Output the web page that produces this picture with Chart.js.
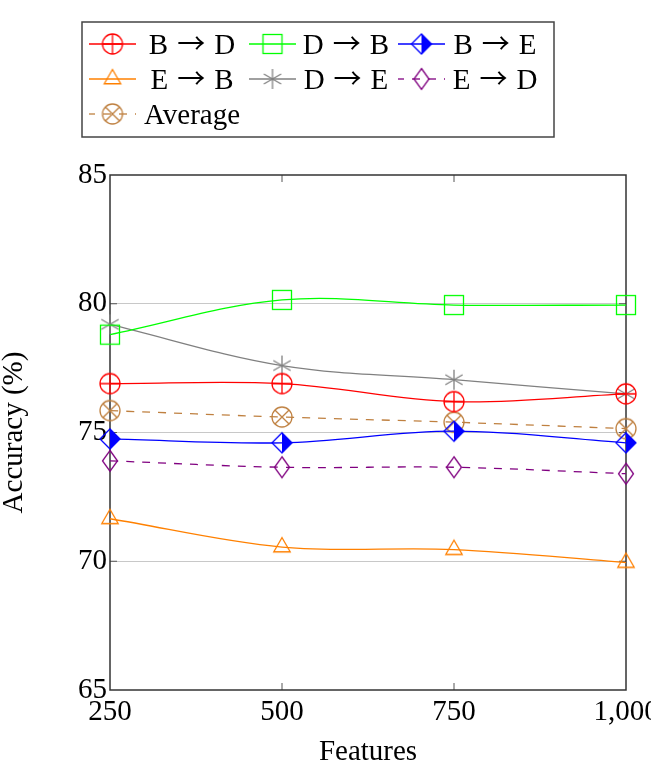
<!DOCTYPE html>
<html>
<head>
<meta charset="utf-8">
<script src="https://cdn.jsdelivr.net/npm/chart.js@4.4.0/dist/chart.umd.min.js"></script>
<style>
  html, body { margin: 0; padding: 0; background: #fff; overflow: hidden; }
  #wrap { width: 651px; height: 768px; }
</style>
</head>
<body>
<div id="wrap"><canvas id="accuracy-chart" width="651" height="768"></canvas></div>
<script>
(function () {
  "use strict";

  // x categories (number of features) and y tick labels
  var features = [250, 500, 750, 1000];
  var yTicks = [65, 70, 75, 80, 85];

  // accuracy (%) per domain pair
  var seriesNames = ["B \u2192 D", "D \u2192 B", "B \u2192 E", "E \u2192 B", "D \u2192 E", "E \u2192 D", "Average"];
  var bToD = [76.9, 76.9, 76.2, 76.5];
  var dToB = [78.8, 80.15, 79.95, 79.95];
  var bToE = [74.75, 74.6, 75.05, 74.6];
  var eToB = [71.65, 70.55, 70.45, 69.95];
  var dToE = [79.2, 77.6, 77.05, 76.5];
  var eToD = [73.9, 73.65, 73.65, 73.4];
  var average = [75.85, 75.6, 75.4, 75.15];

  var FONT = '"Liberation Serif", "Times New Roman", serif';
  var FONT_SIZE = 29;

  /* little canvases used as point markers (pgfplots look) */
  function makeMarker(kind, color) {
    var c = document.createElement("canvas");
    c.width = 28; c.height = 28;
    var g = c.getContext("2d");
    g.strokeStyle = color;
    g.fillStyle = color;
    g.lineWidth = 1.3;
    g.translate(14, 14);
    g.beginPath();
    if (kind === "oplus" || kind === "otimes") {
      g.arc(0, 0, 10, 0, Math.PI * 2);
      g.stroke();
      g.beginPath();
      if (kind === "oplus") {
        g.moveTo(-10, 0); g.lineTo(10, 0);
        g.moveTo(0, -10); g.lineTo(0, 10);
      } else {
        var d = 7.07;
        g.moveTo(-d, -d); g.lineTo(d, d);
        g.moveTo(-d, d); g.lineTo(d, -d);
      }
      g.stroke();
    } else if (kind === "square") {
      g.strokeRect(-9.5, -9.5, 19, 19);
    } else if (kind === "halfdiamond") {
      g.moveTo(0, -10); g.lineTo(10, 0); g.lineTo(0, 10); g.closePath();
      g.fill();
      g.beginPath();
      g.moveTo(0, -10); g.lineTo(10, 0); g.lineTo(0, 10); g.lineTo(-10, 0); g.closePath();
      g.stroke();
    } else if (kind === "triangle") {
      var r = 9.5;
      g.moveTo(0, -r);
      g.lineTo(0.866 * r, r / 2);
      g.lineTo(-0.866 * r, r / 2);
      g.closePath();
      g.stroke();
    } else if (kind === "asterisk") {
      for (var i = 0; i < 3; i++) {
        var a = Math.PI / 2 + i * Math.PI / 3;
        g.moveTo(Math.cos(a) * 10, Math.sin(a) * 10);
        g.lineTo(-Math.cos(a) * 10, -Math.sin(a) * 10);
      }
      g.stroke();
    } else if (kind === "diamond") {
      g.moveTo(0, -10.5); g.lineTo(7.5, 0); g.lineTo(0, 10.5); g.lineTo(-7.5, 0); g.closePath();
      g.stroke();
    }
    return c;
  }

  function pts(values) {
    return values.map(function (v, i) { return { x: features[i], y: v }; });
  }

  function series(label, values, color, marker, dashed) {
    return {
      label: label,
      data: pts(values),
      borderColor: color,
      backgroundColor: color,
      borderWidth: 1.3,
      borderDash: dashed ? [8, 8] : [],
      tension: 0.35,
      fill: false,
      clip: false,
      pointStyle: makeMarker(marker, color),
      pointRadius: 10,
      pointHoverRadius: 10
    };
  }

  var datasets = [
    series(seriesNames[0], bToD, "#ff0000", "oplus", false),
    series(seriesNames[1], dToB, "#00ff00", "square", false),
    series(seriesNames[2], bToE, "#0000ff", "halfdiamond", false),
    series(seriesNames[3], eToB, "#ff8000", "triangle", false),
    series(seriesNames[4], dToE, "#808080", "asterisk", false),
    series(seriesNames[5], eToD, "#800080", "diamond", true),
    series(seriesNames[6], average, "#bf8040", "otimes", true)
  ];

  /* box around the plot plus inward tick marks */
  var framePlugin = {
    id: "frame",
    beforeDatasetsDraw: function (chart) {
      var ctx = chart.ctx, a = chart.chartArea;
      var xs = chart.scales.x, ys = chart.scales.y;
      ctx.save();
      ctx.strokeStyle = "#555";
      ctx.lineWidth = 1;
      ctx.beginPath();
      features.slice(1, -1).forEach(function (f) {
        var px = xs.getPixelForValue(f);
        ctx.moveTo(px, a.bottom); ctx.lineTo(px, a.bottom - 7);
        ctx.moveTo(px, a.top); ctx.lineTo(px, a.top + 7);
      });
      yTicks.slice(1, -1).forEach(function (t) {
        var py = ys.getPixelForValue(t);
        ctx.moveTo(a.left, py); ctx.lineTo(a.left + 7, py);
        ctx.moveTo(a.right, py); ctx.lineTo(a.right - 7, py);
      });
      ctx.stroke();
      ctx.strokeStyle = "#333";
      ctx.lineWidth = 1.5;
      ctx.strokeRect(a.left, a.top, a.right - a.left, a.bottom - a.top);
      ctx.restore();
    }
  };

  // legend label: letters in the serif font, thin full-width arrow from a CJK font
  function drawLabel(ctx, label, cx, baseline) {
    var serif = FONT_SIZE + "px " + FONT;
    var arrowFont = '28px "Noto Sans CJK JP", "DejaVu Sans"';
    ctx.textAlign = "left";
    ctx.textBaseline = "alphabetic";
    var parts = label.split("\u2192");
    if (parts.length < 2) {
      ctx.font = serif;
      var w = ctx.measureText(label).width;
      ctx.fillText(label, cx - w / 2, baseline);
      return;
    }
    var left = parts[0].trim(), right = parts[1].trim(), gap = 9;
    ctx.font = serif;
    var wl = ctx.measureText(left).width, wr = ctx.measureText(right).width;
    ctx.font = arrowFont;
    var wa = ctx.measureText("\u2192").width;
    var x = cx - (wl + gap + wa + gap + wr) / 2;
    ctx.font = serif;
    ctx.fillText(left, x, baseline);
    x += wl + gap;
    ctx.font = arrowFont;
    ctx.fillText("\u2192", x, baseline);
    x += wa + gap;
    ctx.font = serif;
    ctx.fillText(right, x, baseline);
  }

  /* pgfplots-style legend box with 3 columns */
  var legendPlugin = {
    id: "boxLegend",
    afterDraw: function (chart) {
      var ctx = chart.ctx;
      var sampleX = [89, 249, 398];
      var textX = [192, 346, 495];
      var rowY = [44, 79, 114];
      ctx.save();
      ctx.strokeStyle = "#444";
      ctx.lineWidth = 1.5;
      ctx.strokeRect(82, 22, 472, 115);
      chart.data.datasets.forEach(function (ds, i) {
        var col = i % 3, row = Math.floor(i / 3);
        var x0 = sampleX[col], y = rowY[row];
        ctx.strokeStyle = ds.borderColor;
        ctx.lineWidth = ds.borderWidth;
        ctx.setLineDash(ds.borderDash);
        ctx.lineDashOffset = ds.borderDash.length ? 2 : 0;
        ctx.beginPath();
        ctx.moveTo(x0, y); ctx.lineTo(x0 + 47, y);
        ctx.stroke();
        ctx.setLineDash([]);
        var m = ds.pointStyle;
        ctx.drawImage(m, x0 + 23.5 - m.width / 2, y - m.height / 2);
        ctx.fillStyle = "#000";
        drawLabel(ctx, ds.label, textX[col], y + 9.5);
      });
      ctx.restore();
    }
  };

  var ctx = document.getElementById("accuracy-chart");
  var chart = new Chart(ctx, {
    type: "line",
    data: { datasets: datasets },
    plugins: [framePlugin, legendPlugin],
    options: {
      responsive: false,
      animation: false,
      devicePixelRatio: 1,
      layout: { padding: { top: 175, right: 25, left: 0, bottom: 0 } },
      plugins: { legend: { display: false }, tooltip: { enabled: false } },
      scales: {
        x: {
          type: "linear",
          min: 250,
          max: 1000,
          afterBuildTicks: function (scale) {
            scale.ticks = features.map(function (f) { return { value: f }; });
          },
          afterFit: function (scale) {
            scale.height = 78;
            scale.paddingLeft = 0;
            scale.paddingRight = 0;
          },
          grid: { display: false, drawTicks: false },
          border: { display: false },
          ticks: {
            color: "#000",
            font: { family: FONT, size: FONT_SIZE },
            padding: 5,
            maxRotation: 0,
            autoSkip: false,
            callback: function (v) { return v.toLocaleString("en-US"); }
          },
          title: {
            display: true,
            text: "Features",
            color: "#000",
            font: { family: FONT, size: FONT_SIZE, lineHeight: 1 },
            padding: { top: 0, bottom: 1 }
          }
        },
        y: {
          min: 65,
          max: 85,
          afterBuildTicks: function (scale) {
            scale.ticks = yTicks.map(function (t) { return { value: t }; });
          },
          afterFit: function (scale) {
            scale.width = 110;
            scale.paddingTop = 0;
            scale.paddingBottom = 0;
          },
          grid: {
            drawTicks: false,
            lineWidth: 1,
            color: function (c) {
              var v = c.tick ? c.tick.value : null;
              return (v === 65 || v === 85) ? "rgba(0,0,0,0)" : "#c8c8c8";
            }
          },
          border: { display: false },
          ticks: {
            color: "#000",
            font: { family: FONT, size: FONT_SIZE },
            padding: 3
          },
          title: {
            display: true,
            text: "Accuracy (%)",
            color: "#000",
            font: { family: FONT, size: FONT_SIZE, lineHeight: 1 },
            padding: { top: 0, bottom: 0 }
          }
        }
      }
    }
  });
})();
</script>
</body>
</html>
